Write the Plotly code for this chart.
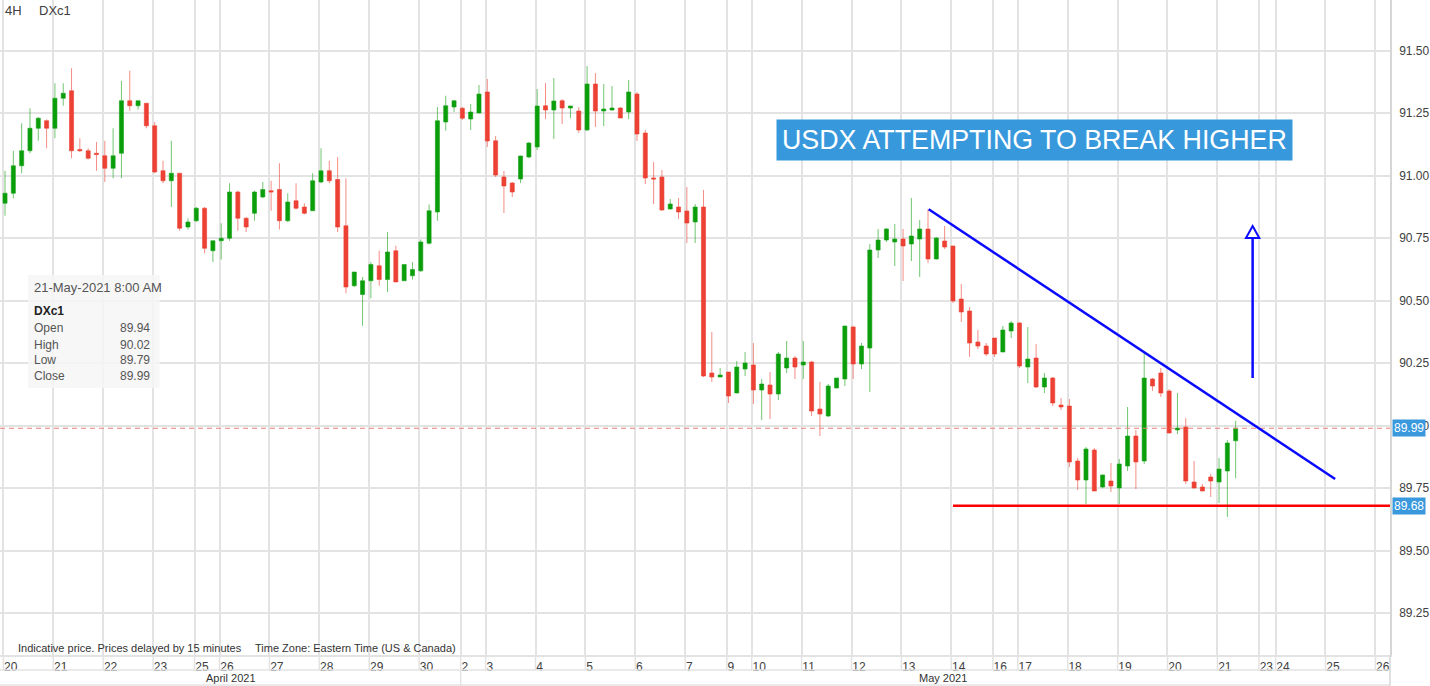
import plotly.graph_objects as go

# ---------------- data (4H candles, DXc1) ----------------
open_ = [91.03, 90.89, 90.93, 91.04, 91.10, 91.19, 91.22, 91.19, 91.31, 91.34,
         91.105, 91.10, 91.09, 91.08, 91.03, 91.09, 91.30, 91.28, 91.29, 91.20,
         91.02, 90.98, 91.01, 90.795, 90.82, 90.87, 90.70, 90.74, 90.75, 90.935,
         90.83, 90.85, 90.915, 90.94, 90.945, 90.82, 90.90, 90.875, 90.86, 90.975,
         91.02, 90.985, 90.80, 90.56, 90.525, 90.58, 90.64, 90.585, 90.70, 90.58,
         90.60, 90.62, 90.73, 90.855, 91.215, 91.275, 91.27, 91.227, 91.251, 91.335,
         91.14, 90.995, 90.971, 90.987, 91.075, 91.115, 91.28, 91.263, 91.30, 91.271,
         91.259, 91.183, 91.367, 91.259, 91.263, 91.271, 91.255, 91.327, 91.171, 90.991,
         90.995, 90.867, 90.875, 90.859, 90.815, 90.875, 90.211, 90.195, 90.215, 90.131,
         90.227, 90.243, 90.143, 90.163, 90.127, 90.231, 90.271, 90.243, 90.255, 90.067,
         90.039, 90.151, 90.187, 90.395, 90.247, 90.311, 90.703, 90.743, 90.735, 90.747,
         90.727, 90.747, 90.787, 90.667, 90.739, 90.719, 90.507, 90.459, 90.335, 90.319,
         90.351, 90.295, 90.379, 90.411, 90.235, 90.271, 90.155, 90.191, 90.083, 90.079,
         89.859, 89.783, 89.903, 89.755, 89.779, 89.751, 89.839, 89.959, 89.859, 90.187,
         90.211, 90.139, 89.983, 89.995, 89.775, 89.755, 89.795, 89.775, 89.819, 89.94]
high = [91.04, 91.02, 91.10, 91.21, 91.27, 91.235, 91.225, 91.37, 91.37, 91.43,
        91.15, 91.11, 91.135, 91.14, 91.19, 91.38, 91.42, 91.30, 91.29, 91.215,
        91.06, 91.14, 91.01, 90.83, 90.875, 90.875, 90.74, 90.81, 90.97, 90.94,
        90.835, 90.94, 90.975, 90.98, 91.05, 90.93, 90.97, 90.89, 91.01, 91.11,
        91.06, 91.075, 90.99, 90.615, 90.595, 90.655, 90.70, 90.775, 90.72, 90.645,
        90.655, 90.745, 90.885, 91.275, 91.32, 91.303, 91.275, 91.287, 91.363, 91.387,
        91.159, 91.019, 90.975, 91.08, 91.135, 91.347, 91.371, 91.391, 91.307, 91.28,
        91.275, 91.439, 91.411, 91.367, 91.359, 91.275, 91.383, 91.335, 91.183, 91.055,
        91.023, 90.907, 90.911, 90.955, 90.887, 90.943, 90.375, 90.231, 90.215, 90.259,
        90.295, 90.331, 90.187, 90.215, 90.295, 90.339, 90.279, 90.339, 90.259, 90.175,
        90.167, 90.191, 90.40, 90.40, 90.331, 90.727, 90.787, 90.791, 90.807, 90.787,
        90.911, 90.823, 90.867, 90.755, 90.799, 90.72, 90.567, 90.475, 90.383, 90.331,
        90.351, 90.399, 90.419, 90.415, 90.395, 90.327, 90.211, 90.195, 90.111, 90.107,
        89.871, 89.915, 89.911, 89.805, 89.851, 89.867, 90.075, 89.983, 90.291, 90.191,
        90.231, 90.147, 90.131, 90.031, 89.859, 89.767, 89.807, 89.871, 89.943, 90.02]
low = [90.88, 90.84, 90.91, 91.01, 91.09, 91.14, 91.11, 91.15, 91.28, 91.07,
       91.095, 91.065, 91.02, 90.975, 90.99, 90.99, 91.26, 91.265, 91.19, 91.01,
       90.97, 90.875, 90.78, 90.785, 90.815, 90.69, 90.655, 90.665, 90.74, 90.78,
       90.775, 90.82, 90.91, 90.86, 90.785, 90.815, 90.865, 90.845, 90.86, 90.97,
       90.97, 90.775, 90.53, 90.555, 90.40, 90.51, 90.56, 90.535, 90.575, 90.58,
       90.585, 90.615, 90.725, 90.82, 91.18, 91.255, 91.223, 91.183, 91.25, 91.115,
       90.995, 90.851, 90.915, 90.971, 91.07, 91.103, 91.227, 91.147, 91.207, 91.231,
       91.171, 91.18, 91.195, 91.199, 91.26, 91.23, 91.227, 91.139, 90.967, 90.887,
       90.86, 90.865, 90.827, 90.731, 90.731, 90.195, 90.175, 90.195, 90.091, 90.13,
       90.199, 90.087, 90.023, 90.027, 90.103, 90.211, 90.187, 90.187, 90.039, 89.959,
       90.035, 90.151, 90.159, 90.187, 90.227, 90.135, 90.671, 90.735, 90.639, 90.579,
       90.659, 90.595, 90.651, 90.665, 90.707, 90.491, 90.415, 90.275, 90.307, 90.279,
       90.275, 90.295, 90.351, 90.231, 90.171, 90.151, 90.131, 90.079, 90.063, 89.835,
       89.743, 89.687, 89.739, 89.75, 89.735, 89.687, 89.819, 89.747, 89.847, 90.139,
       90.115, 89.97, 89.967, 89.767, 89.75, 89.739, 89.715, 89.691, 89.635, 89.79]
close = [90.89, 90.93, 91.04, 91.10, 91.19, 91.23, 91.19, 91.31, 91.33, 91.10,
         91.10, 91.07, 91.085, 91.03, 91.08, 91.30, 91.28, 91.30, 91.20, 91.015,
         90.98, 91.01, 90.79, 90.815, 90.87, 90.71, 90.74, 90.75, 90.935, 90.83,
         90.795, 90.935, 90.945, 90.935, 90.82, 90.895, 90.87, 90.85, 90.98, 91.02,
         90.98, 90.795, 90.555, 90.615, 90.58, 90.645, 90.585, 90.695, 90.575, 90.645,
         90.625, 90.735, 90.86, 91.22, 91.28, 91.30, 91.23, 91.255, 91.327, 91.139,
         91.003, 90.959, 90.935, 91.079, 91.131, 91.279, 91.263, 91.299, 91.271, 91.279,
         91.183, 91.367, 91.259, 91.267, 91.271, 91.231, 91.335, 91.167, 90.991, 90.987,
         90.863, 90.887, 90.855, 90.811, 90.875, 90.199, 90.195, 90.203, 90.119, 90.235,
         90.251, 90.143, 90.167, 90.127, 90.287, 90.271, 90.235, 90.255, 90.059, 90.047,
         90.159, 90.191, 90.399, 90.247, 90.319, 90.703, 90.743, 90.787, 90.747, 90.719,
         90.759, 90.787, 90.667, 90.751, 90.715, 90.499, 90.455, 90.331, 90.319, 90.287,
         90.287, 90.383, 90.411, 90.239, 90.267, 90.155, 90.191, 90.091, 90.075, 89.855,
         89.783, 89.907, 89.739, 89.803, 89.759, 89.847, 89.959, 89.855, 90.191, 90.159,
         90.131, 89.971, 89.991, 89.779, 89.751, 89.739, 89.779, 89.827, 89.931, 89.99]

# day-start bar numbers on the time axis and their labels
day_start_bar = [1, 7, 13, 19, 24, 27, 33, 39, 45, 51, 56, 59, 65, 71, 77, 83,
                 88, 91, 97, 103, 109, 115, 120, 123, 129, 135, 141, 147, 152, 154, 160, 166]
day_labels = ['20', '21', '22', '23', '25', '26', '27', '28', '29', '30', '2', '3',
              '4', '5', '6', '7', '9', '10', '11', '12', '13', '14', '16', '17',
              '18', '19', '20', '21', '23', '24', '25', '26']
month_labels = ['April 2021', 'May 2021']
month_label_bar = [28.2, 113.8]
month_break_bar = 56

price_ticks = [89.25, 89.50, 89.75, 90.00, 90.25, 90.50, 90.75, 91.00, 91.25, 91.50]

last_bar_time = '21-May-2021 8:00 AM'
symbol = 'DXc1'
interval = '4H'
info_labels = ['Open', 'High', 'Low', 'Close']

# drawn annotations (bar number, price)
trend_start = (112.08, 90.866)
trend_end = (160.96, 89.787)
support_level = 89.68
support_start_bar = 115.0
arrow_bar = 151.04
arrow_from = 90.191
arrow_base = 90.751
arrow_tip = 90.799
headline = 'USDX ATTEMPTING TO BREAK HIGHER'
footer_left = 'Indicative price. Prices delayed by 15 minutes'
footer_right = 'Time Zone: Eastern Time (US & Canada)'

# ---------------- layout geometry ----------------
W, H = 1430, 686
PW, PH = 1393, 655
x_range = [0.396, 167.56]
y_range = [89.083, 91.703]
FONT = 'Liberation Sans, Arial, sans-serif'
GRID = '#e3e3e3'
TEXT = '#404040'
TAG = '#3a98dd'


def pp(xpix, ypix):
    return xpix / PW, 1 - ypix / PH


bars = list(range(len(open_)))

fig = go.Figure()
fig.add_trace(go.Candlestick(
    x=bars, open=open_, high=high, low=low, close=close,
    increasing=dict(line=dict(color='rgba(20,160,20,0.6)', width=1), fillcolor='#0a9e0a'),
    decreasing=dict(line=dict(color='rgba(236,65,52,0.6)', width=1), fillcolor='#ec4134'),
    whiskerwidth=0, hoverinfo='skip', showlegend=False,
))

shapes = []
# info box
x0, y0 = pp(28, 388)
x1, y1 = pp(160, 275)
shapes.append(dict(type='rect', xref='paper', yref='paper', x0=x0, x1=x1, y0=y0, y1=y1,
                   fillcolor='rgba(246,246,246,0.85)', line=dict(width=0), layer='above'))
# last price dashed line
shapes.append(dict(type='line', xref='paper', yref='y', x0=0, x1=1, y0=close[-1], y1=close[-1],
                   line=dict(color='#f0837c', width=1, dash='5px,4px'), layer='above'))
# support line
shapes.append(dict(type='line', xref='x', yref='y', x0=support_start_bar, x1=x_range[1],
                   y0=support_level, y1=support_level, line=dict(color='#ff0000', width=2.5)))
# trend line
shapes.append(dict(type='line', xref='x', yref='y', x0=trend_start[0], y0=trend_start[1],
                   x1=trend_end[0], y1=trend_end[1], line=dict(color='#0a0aff', width=2.5)))
# arrow
shapes.append(dict(type='line', xref='x', yref='y', x0=arrow_bar, x1=arrow_bar,
                   y0=arrow_from, y1=arrow_base, line=dict(color='#0a0aff', width=2.5)))
hw = 0.8
shapes.append(dict(type='path', xref='x', yref='y',
                   path=f'M {arrow_bar-hw},{arrow_base} L {arrow_bar},{arrow_tip} L {arrow_bar+hw},{arrow_base} Z',
                   line=dict(color='#0a0aff', width=2), fillcolor='white'))
# date row grid ticks
for b in day_start_bar:
    shapes.append(dict(type='line', xref='x', yref='paper', x0=b - 0.2, x1=b - 0.2,
                       y0=0, y1=-15 / PH, line=dict(color=GRID, width=1.5)))
# month separator
shapes.append(dict(type='line', xref='x', yref='paper', x0=month_break_bar - 0.2, x1=month_break_bar - 0.2,
                   y0=-15 / PH, y1=-31 / PH, line=dict(color=GRID, width=1.5)))
# horizontal separators in the time band
for ypix in (670, 685):
    shapes.append(dict(type='line', xref='paper', yref='paper', x0=0, x1=1,
                       y0=1 - ypix / PH, y1=1 - ypix / PH, line=dict(color=GRID, width=1.5)))
# right border through the time band
shapes.append(dict(type='line', xref='paper', yref='paper', x0=1, x1=1, y0=0, y1=-31 / PH,
                   line=dict(color='#d6d6d6', width=1.5)))

ann = []


def text(xpix, ypix, s, size=12, color=TEXT, anchor='left', bold=False):
    x, y = pp(xpix, ypix)
    ann.append(dict(x=x, y=y, xref='paper', yref='paper', text=f'<b>{s}</b>' if bold else s,
                    showarrow=False, xanchor=anchor, yanchor='middle',
                    font=dict(family=FONT, size=size, color=color)))


text(3, 11, interval, 13)
text(37, 11, symbol, 13)
text(32, 288, last_bar_time, 13, '#555')
text(32, 311, symbol, 12, '#222', bold=True)
info_values = [open_[-1], high[-1], low[-1], close[-1]]
for k, (lab, val) in enumerate(zip(info_labels, info_values)):
    ypix = [328, 345, 360, 376][k]
    text(32, ypix, lab, 12, '#555')
    text(152, ypix, f'{val:.2f}', 12, '#555', anchor='right')
text(16, 648, footer_left, 11, '#333')
text(254, 648, footer_right, 11, '#333')
for lab, b in zip(month_labels, month_label_bar):
    ann.append(dict(x=b, y=-23 / PH, xref='x', yref='paper', text=lab, showarrow=False,
                    xanchor='center', yanchor='middle', font=dict(family=FONT, size=11, color='#333')))

# headline box
hx, hy = pp(1036.5, 140)
ann.append(dict(x=hx, y=hy, xref='paper', yref='paper', text=headline, showarrow=False,
                xanchor='center', yanchor='middle', bgcolor='#3799dc', borderpad=5,
                font=dict(family=FONT, size=26.8, color='white')))

# price tags
for v in (close[-1], support_level):
    ann.append(dict(x=1, y=v, xref='paper', yref='y', text=f'{v:.2f}', showarrow=False,
                    xanchor='left', yanchor='middle', xshift=2, bgcolor=TAG, borderpad=1,
                    font=dict(family=FONT, size=12, color='white')))

fig.update_layout(
    width=W, height=H,
    margin=dict(l=0, r=W - PW, t=0, b=H - PH),
    paper_bgcolor='white', plot_bgcolor='white',
    shapes=shapes, annotations=ann,
    xaxis=dict(range=x_range, tickmode='array', tickvals=[b - 0.2 for b in day_start_bar],
               ticktext=day_labels, ticks='', tickangle=0, ticklabelposition='outside right',
               tickfont=dict(family=FONT, size=12, color=TEXT), showgrid=True, gridcolor=GRID,
               gridwidth=1.5, zeroline=False, showline=True, linecolor=GRID, linewidth=1.5,
               rangeslider=dict(visible=False), fixedrange=True),
    yaxis=dict(range=y_range, side='right', tickmode='array', tickvals=price_ticks,
               ticktext=[f'{t:.2f}' for t in price_ticks], ticks='', ticklabelstandoff=5,
               tickfont=dict(family=FONT, size=12, color=TEXT), showgrid=True, gridcolor=GRID,
               gridwidth=1.5, zeroline=False, showline=True, linecolor='#d6d6d6', linewidth=1.5,
               fixedrange=True),
)

fig.write_html('out.html', config={'displayModeBar': False},
               post_script="document.body.style.margin='0';document.body.style.overflow='hidden';")
